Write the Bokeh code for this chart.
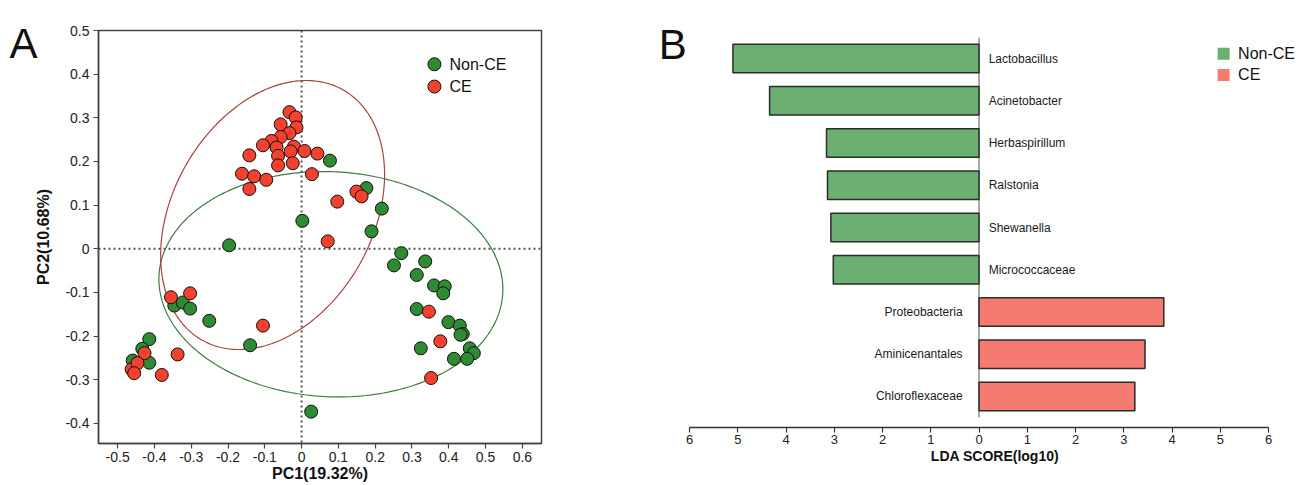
import numpy as np
from bokeh.plotting import figure
from bokeh.layouts import row
from bokeh.models import ColumnDataSource, Span, Label, FixedTicker
from bokeh.core.properties import value
from bokeh.embed import file_html
from bokeh.resources import INLINE

FONT = "Liberation Sans"

# ---------------- Panel A data (PCA) ----------------
nonce_pc1 = [0.077, 0.176, 0.218, 0.002, 0.190, -0.197, -0.346, -0.323, -0.303, -0.251,
             -0.140, -0.414, -0.433, -0.459, -0.414, 0.026, 0.271, 0.251, 0.336, 0.313,
             0.360, 0.389, 0.385, 0.313, 0.399, 0.430, 0.438, 0.432, 0.324, 0.457,
             0.468, 0.414, 0.450]
nonce_pc2 = [0.202, 0.139, 0.092, 0.064, 0.040, 0.008, -0.130, -0.123, -0.137, -0.165,
             -0.221, -0.207, -0.229, -0.256, -0.261, -0.373, -0.010, -0.038, -0.029, -0.060,
             -0.084, -0.086, -0.102, -0.138, -0.168, -0.176, -0.195, -0.197, -0.228, -0.228,
             -0.239, -0.252, -0.252]

ce_pc1 = [-0.033, -0.016, -0.057, -0.014, -0.033, -0.057, -0.082, -0.105, -0.068, -0.021,
          -0.030, 0.008, 0.043, -0.142, -0.064, -0.064, -0.024, -0.162, -0.129, -0.096,
          0.028, -0.142, 0.149, 0.163, 0.097, 0.071, -0.355, -0.303, -0.105, -0.427,
          -0.462, -0.446, -0.455, -0.337, -0.380, 0.346, 0.377, 0.352]
ce_pc2 = [0.313, 0.301, 0.285, 0.278, 0.265, 0.256, 0.247, 0.237, 0.232, 0.234,
          0.223, 0.224, 0.218, 0.214, 0.213, 0.191, 0.196, 0.172, 0.166, 0.158,
          0.171, 0.137, 0.131, 0.120, 0.108, 0.017, -0.111, -0.102, -0.176, -0.239,
          -0.276, -0.262, -0.285, -0.242, -0.289, -0.144, -0.212, -0.296]

# confidence ellipses: centre, and parametric axis vectors (x = cx + ax*cos t, y = cy + cy1*cos t + cy2*sin t)
ce_ell_center = (-0.0788, 0.0774)
ce_ell_axes = (0.3043, 0.0927, 0.2938)
nonce_ell_center = (0.0796, -0.0812)
nonce_ell_axes = (0.4674, -0.01145, 0.2579)

pc1_ticks = [-0.5, -0.4, -0.3, -0.2, -0.1, 0, 0.1, 0.2, 0.3, 0.4, 0.5, 0.6]
pc1_tick_labels = ["-0.5", "-0.4", "-0.3", "-0.2", "-0.1", "0", "0.1", "0.2", "0.3", "0.4", "0.5", "0.6"]
pc2_ticks = [-0.4, -0.3, -0.2, -0.1, 0, 0.1, 0.2, 0.3, 0.4, 0.5]
pc2_tick_labels = ["-0.4", "-0.3", "-0.2", "-0.1", "0", "0.1", "0.2", "0.3", "0.4", "0.5"]

# ---------------- Panel B data (LDA) ----------------
taxa = ["Lactobacillus", "Acinetobacter", "Herbaspirillum", "Ralstonia", "Shewanella",
        "Micrococcaceae", "Proteobacteria", "Aminicenantales", "Chloroflexaceae"]
lda_score = [5.10, 4.34, 3.16, 3.14, 3.07, 3.02, 3.83, 3.44, 3.23]
taxa_group = ["Non-CE"] * 6 + ["CE"] * 3
lda_ticks = [-6, -5, -4, -3, -2, -1, 0, 1, 2, 3, 4, 5, 6]
lda_tick_labels = ["6", "5", "4", "3", "2", "1", "0", "1", "2", "3", "4", "5", "6"]

# ---------------- styles ----------------
GREEN_PT = "#2f8a34"
RED_PT = "#f4412e"
GREEN_BAR = "#6bb071"
RED_BAR = "#f57a72"
GREEN_ELL = "#3f7d3f"
RED_ELL = "#a4463e"

# ================= Panel A =================
pA = figure(width=620, height=485, x_range=(-0.552, 0.652), y_range=(-0.446, 0.5),
            output_backend="svg", toolbar_location=None,
            min_border_left=98, min_border_right=79, min_border_top=30, min_border_bottom=42)
pA.frame_align = False
pA.grid.visible = False
pA.outline_line_color = "#444444"
pA.outline_line_width = 1.5
pA.background_fill_color = "white"
pA.border_fill_color = "white"

for ax in (pA.xaxis[0], pA.yaxis[0]):
    ax.axis_line_color = "#444444"
    ax.axis_line_width = 1.5
    ax.major_tick_line_color = "#444444"
    ax.major_tick_line_width = 1.2
    ax.major_tick_out = 5
    ax.major_tick_in = 0
    ax.minor_tick_line_color = None
    ax.major_label_text_font = FONT
    ax.major_label_text_font_size = "14px"
    ax.major_label_text_color = "#222222"
    ax.axis_label_text_font = FONT
    ax.axis_label_text_font_size = "16px"
    ax.axis_label_text_font_style = "bold"
    ax.axis_label_text_color = "#111111"

pA.xaxis.ticker = FixedTicker(ticks=pc1_ticks)
pA.xaxis.major_label_overrides = dict(zip(pc1_ticks, pc1_tick_labels))
pA.yaxis.ticker = FixedTicker(ticks=pc2_ticks)
pA.yaxis.major_label_overrides = dict(zip(pc2_ticks, pc2_tick_labels))
pA.xaxis.axis_label = "PC1(19.32%)"
pA.yaxis.axis_label = "PC2(10.68%)"
pA.xaxis.major_label_standoff = 3
pA.xaxis.axis_label_standoff = 0
pA.yaxis.major_label_standoff = 4
pA.yaxis.axis_label_standoff = 10

for dim in ("width", "height"):
    pA.add_layout(Span(location=0, dimension=dim, line_color="#555555", line_width=2,
                       line_dash="2 3", level="underlay"))

t = np.linspace(0, 2 * np.pi, 300)
for (cx, cy), (a, c1, c2), col in ((nonce_ell_center, nonce_ell_axes, GREEN_ELL),
                                   (ce_ell_center, ce_ell_axes, RED_ELL)):
    pA.line(cx + a * np.cos(t), cy + c1 * np.cos(t) + c2 * np.sin(t),
            line_color=col, line_width=1.2)

pA.scatter(x=nonce_pc1, y=nonce_pc2, size=13, fill_color=GREEN_PT, line_color="#111111", line_width=1)
pA.scatter(x=ce_pc1, y=ce_pc2, size=13, fill_color=RED_PT, line_color="#111111", line_width=1)

# legend (panel A)
legA_x, legA_tx, legA_y = 0.361, 0.402, [0.4227, 0.3716]
pA.scatter(x=[legA_x, legA_x], y=legA_y, size=13, fill_color=[GREEN_PT, RED_PT],
           line_color="#111111", line_width=1)
pA.text(x=[legA_tx, legA_tx], y=legA_y, text=["Non-CE", "CE"], text_font=value(FONT),
        text_font_size=value("16px"), text_baseline="middle", text_align="left", text_color="#111111")

pA.add_layout(Label(x=9, y=43.3, x_units="canvas", y_units="canvas", text="A",
                    text_font=FONT, text_font_size="42px", text_color="#111111",
                    text_baseline="alphabetic"), "left")

# ================= Panel B =================
ypos = [8 - i for i in range(len(taxa))]
left = [-s if g == "Non-CE" else 0 for s, g in zip(lda_score, taxa_group)]
right = [0 if g == "Non-CE" else s for s, g in zip(lda_score, taxa_group)]
colors = [GREEN_BAR if g == "Non-CE" else RED_BAR for g in taxa_group]
lab_x = [0.2 if g == "Non-CE" else -0.34 for g in taxa_group]
lab_align = ["left" if g == "Non-CE" else "right" for g in taxa_group]

srcB = ColumnDataSource(dict(y=ypos, left=left, right=right, color=colors, taxa=taxa,
                             lx=lab_x, align=lab_align, group=taxa_group))

pB = figure(width=688, height=485, x_range=(-6, 6.663), y_range=(-0.734, 8.5),
            output_backend="svg", toolbar_location=None,
            min_border_left=69, min_border_right=8, min_border_top=37, min_border_bottom=58)
pB.frame_align = False
pB.grid.visible = False
pB.outline_line_color = None
pB.yaxis.visible = False
pB.background_fill_color = "white"
pB.border_fill_color = "white"

xb = pB.xaxis[0]
xb.ticker = FixedTicker(ticks=lda_ticks)
xb.major_label_overrides = dict(zip(lda_ticks, lda_tick_labels))
xb.bounds = (-6, 6)
xb.axis_line_color = "#333333"
xb.axis_line_width = 1.5
xb.major_tick_line_color = "#333333"
xb.major_tick_line_width = 1.2
xb.major_tick_out = 5
xb.major_tick_in = 0
xb.minor_tick_line_color = None
xb.major_label_standoff = 2
xb.major_label_text_font = FONT
xb.major_label_text_font_size = "13px"
xb.major_label_text_color = "#222222"
xb.axis_label = "LDA SCORE(log10)"
xb.axis_label_text_font = FONT
xb.axis_label_text_font_size = "14px"
xb.axis_label_text_font_style = "bold"
xb.axis_label_text_color = "#111111"
xb.axis_label_standoff = 1

zero_line_ext = (-0.5, 8.5)
pB.segment(x0=[0], y0=[zero_line_ext[0]], x1=[0], y1=[zero_line_ext[1]],
           line_color="#8c8c8c", line_width=1.5)

pB.hbar(y="y", left="left", right="right", height=0.675, fill_color="color",
        line_color="#2b2b2b", line_width=1.5, source=srcB)
pB.text(x="lx", y="y", text="taxa", text_align="align", text_baseline="middle",
        text_font=value(FONT), text_font_size=value("12px"), text_color="#1a1a1a", source=srcB)

# legend (panel B)
legB_x, legB_tx, legB_y = 5.07, 5.37, [8.118, 7.614]
pB.scatter(x=[legB_x, legB_x], y=legB_y, marker="square", size=12,
           fill_color=[GREEN_BAR, RED_BAR], line_color=None)
pB.text(x=[legB_tx, legB_tx], y=legB_y, text=["Non-CE", "CE"], text_font=value(FONT),
        text_font_size=value("16px"), text_baseline="middle", text_align="left", text_color="#111111")

pB.add_layout(Label(x=38.3, y=44.3, x_units="canvas", y_units="canvas", text="B",
                    text_font=FONT, text_font_size="42px", text_color="#111111",
                    text_baseline="alphabetic"), "left")

layout = row(pA, pB)
open("out.html", "w").write(file_html(layout, INLINE))
